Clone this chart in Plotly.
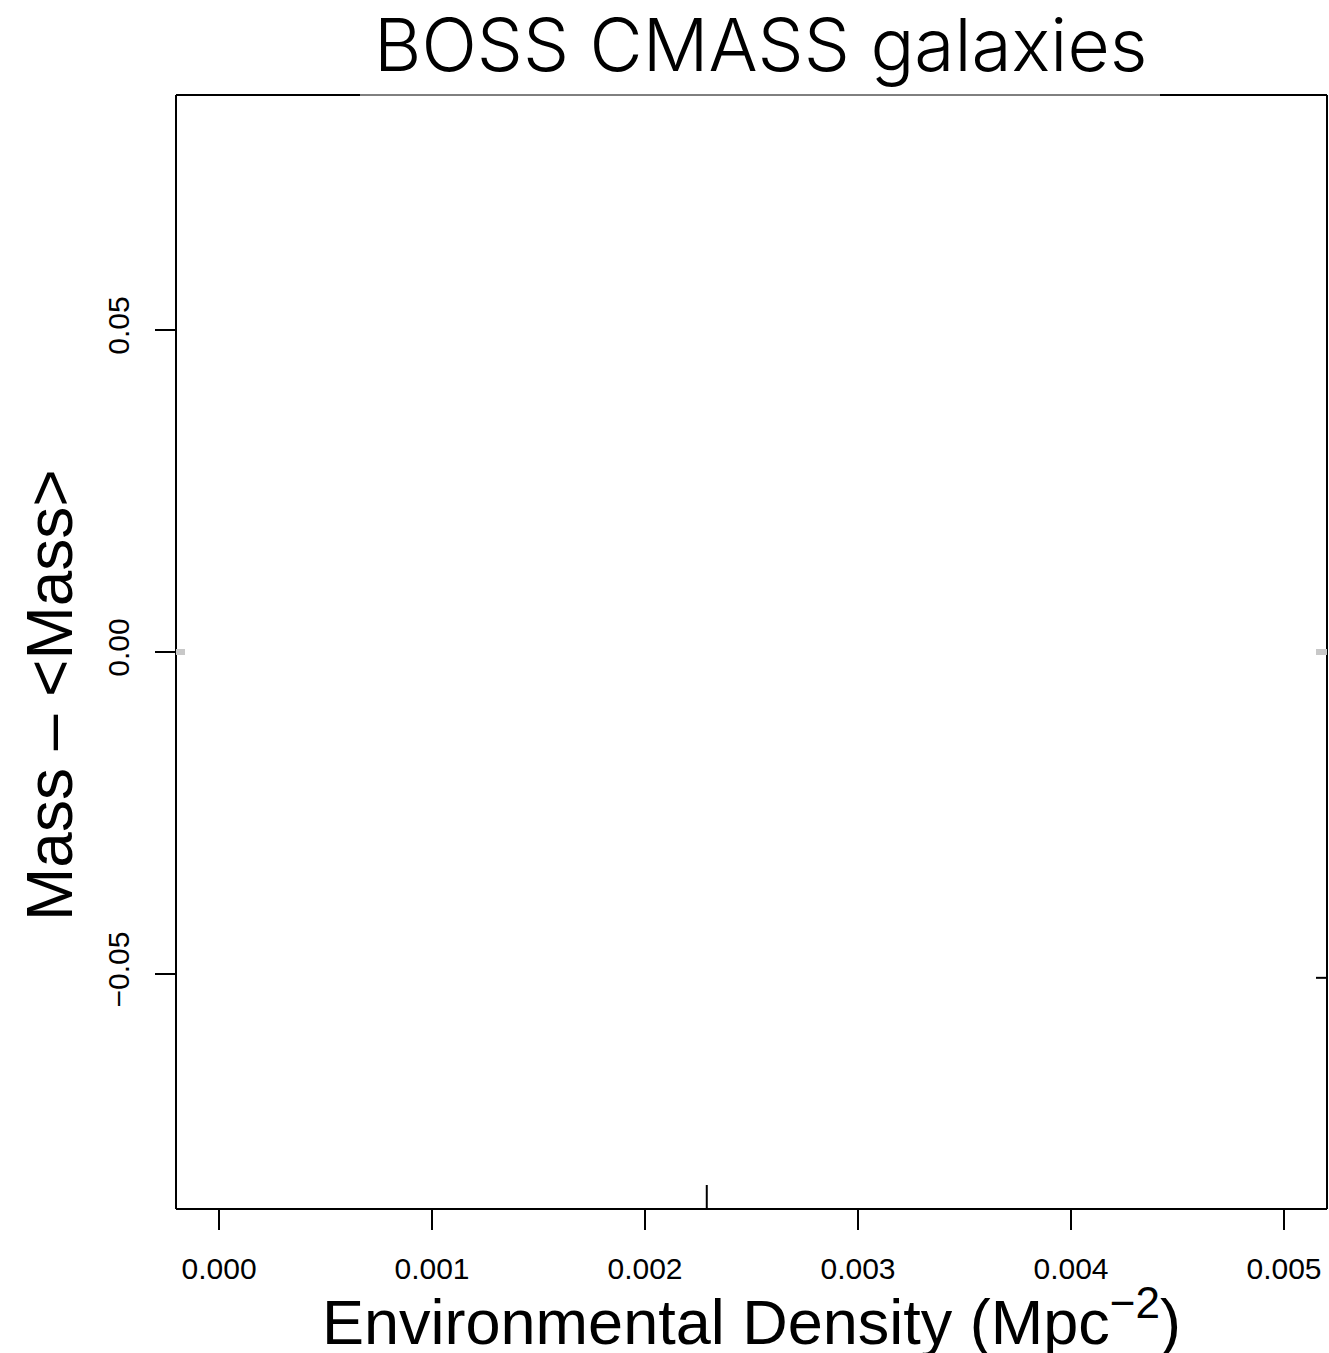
import plotly.graph_objects as go

# Axis ranges and ticks
x_range = [-0.000202, 0.005202]
y_range = [-0.0865, 0.0865]
x_ticks = [0.000, 0.001, 0.002, 0.003, 0.004, 0.005]
x_tick_labels = ["0.000", "0.001", "0.002", "0.003", "0.004", "0.005"]
y_ticks = [-0.05, 0.00, 0.05]
y_tick_labels = ["\u22120.05", "0.00", "0.05"]

# Rug marks on the bottom and right edges
rug_x = [0.00229]
rug_y = [-0.0506]

# Reference level (mean mass offset)
ref_level = 0.0

W, H = 1329, 1353
L, R, T, B = 176, 2, 95, 144

fig = go.Figure()
fig.add_trace(go.Scatter(x=[None], y=[None], mode="markers", showlegend=False, hoverinfo="skip"))

x_tick_font = dict(family="Liberation Sans, Arial, sans-serif", size=30, color="black")
y_tick_font = dict(family="Liberation Sans, Arial, sans-serif", size=30, color="black")

fig.update_layout(
    width=W, height=H,
    margin=dict(l=L, r=R, t=T, b=B),
    paper_bgcolor="white", plot_bgcolor="white",
    showlegend=False,
    xaxis=dict(
        range=x_range, tickvals=x_ticks, ticktext=x_tick_labels,
        ticks="outside", ticklen=20, tickwidth=2, tickcolor="black",
        showgrid=False, zeroline=False, showline=False,
        tickfont=x_tick_font, ticklabelstandoff=13,
    ),
    yaxis=dict(
        range=y_range, tickvals=y_ticks, ticktext=y_tick_labels,
        ticks="outside", ticklen=20, tickwidth=2, tickcolor="black",
        showgrid=False, zeroline=False, showline=False,
        tickfont=y_tick_font, tickangle=-90, ticklabelstandoff=14,
    ),
)

# Plot frame (top edge thinner where the title sits over it)
px_to_xpaper = lambda px: (px - L) / (W - L - R)
px_to_ypaper = lambda py: (H - B - py) / (H - T - B)
frame = [
    (0, 0, 0, 1, 2), (1, 0, 1, 1, 2), (0, 0, 1, 0, 2),
    (0, 1, px_to_xpaper(360), 1, 2),
    (px_to_xpaper(360), 1, px_to_xpaper(1160), 1, 1),
    (px_to_xpaper(1160), 1, 1, 1, 2),
]
for x0, y0, x1, y1, w in frame:
    fig.add_shape(type="line", xref="x domain", yref="y domain",
                  x0=x0, y0=y0, x1=x1, y1=y1, line=dict(color="black", width=w))

# Grey reference stubs at the left and right edges
fig.add_shape(type="line", xref="x domain", yref="y", x0=0, x1=px_to_xpaper(185),
              y0=ref_level, y1=ref_level, line=dict(color="#c8c8c8", width=6))
fig.add_shape(type="line", xref="x domain", yref="y", x0=px_to_xpaper(1316), x1=1,
              y0=ref_level, y1=ref_level, line=dict(color="#c8c8c8", width=6))

# Rug marks
for xv in rug_x:
    fig.add_shape(type="line", xref="x", yref="y domain", x0=xv, x1=xv,
                  y0=0, y1=24 / (H - T - B), line=dict(color="black", width=2))
for yv in rug_y:
    fig.add_shape(type="line", xref="x domain", yref="y", x0=1 - 11 / (W - L - R), x1=1,
                  y0=yv, y1=yv, line=dict(color="black", width=2))

# Titles
fig.add_annotation(text="BOSS CMASS galaxies", xref="paper", yref="paper",
                   x=px_to_xpaper(760), y=px_to_ypaper(44),
                   xanchor="center", yanchor="middle", showarrow=False,
                   font=dict(family="Inter, Liberation Sans, sans-serif", size=73,
                             color="black", weight=300))
fig.add_annotation(text="Environmental Density (Mpc<sup>\u22122</sup>)",
                   xref="paper", yref="paper",
                   x=0.5, y=px_to_ypaper(1317),
                   xanchor="center", yanchor="middle", showarrow=False,
                   font=dict(family="Liberation Sans, Arial, sans-serif", size=63, color="black"))
fig.add_annotation(text="Mass \u2013 <Mass>", xref="paper", yref="paper",
                   x=px_to_xpaper(50), y=px_to_ypaper(695), textangle=-90,
                   xanchor="center", yanchor="middle", showarrow=False,
                   font=dict(family="Liberation Sans, Arial, sans-serif", size=64, color="black"))

fig.write_html("out.html")
